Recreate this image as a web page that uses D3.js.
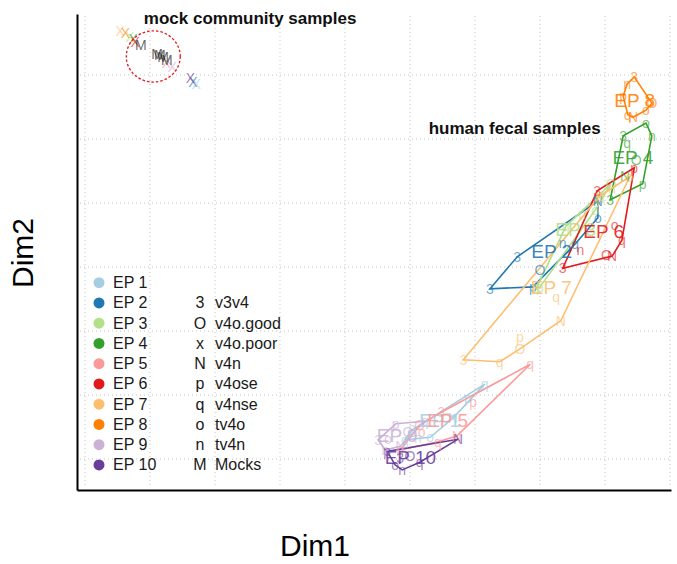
<!DOCTYPE html>
<html>
<head>
<meta charset="utf-8">
<script src="https://cdn.jsdelivr.net/npm/d3@7"></script>
<style>
  html, body { margin: 0; padding: 0; background: #fff; }
  svg { display: block; font-family: "Liberation Sans", Arial, sans-serif; }
</style>
</head>
<body>
<svg id="chart" width="677" height="564"></svg>
<script>
// Enterotype-pool samples on the first two MDS dimensions.
const epNames = ["EP 1", "EP 2", "EP 3", "EP 4", "EP 5", "EP 6", "EP 7", "EP 8", "EP 9", "EP 10"];
const epColors = ["#A6CEE3", "#1F78B4", "#B2DF8A", "#33A02C", "#FB9A99",
                  "#E31A1C", "#FDBF6F", "#FF7F00", "#CAB2D6", "#6A3D9A"];
const typeCodes = ["3", "O", "x", "N", "p", "q", "o", "n", "M"];
const typeNames = ["v3v4", "v4o.good", "v4o.poor", "v4n", "v4ose", "v4nse", "tv4o", "tv4n", "Mocks"];

// [type, Dim1, Dim2] per enterotype pool
const ep1 = [["q", 0.215, -0.183], ["p", 0.189, -0.205], ["O", 0.157, -0.236], ["N", 0.166, -0.236],
             ["o", 0.131, -0.266], ["n", 0.112, -0.267], ["3", 0.103, -0.255], ["q", 0.092, -0.270],
             ["x", -0.229, 0.286]];
const ep2 = [["3", 0.223, -0.034], ["3", 0.265, 0.016], ["N", 0.389, 0.103], ["o", 0.389, 0.077],
             ["q", 0.354, 0.036], ["O", 0.300, -0.005], ["p", 0.289, -0.031], ["n", 0.335, 0.038],
             ["x", -0.234, 0.289]];
const ep3 = [["3", 0.294, -0.034], ["p", 0.300, -0.031], ["q", 0.340, 0.064], ["n", 0.365, 0.083],
             ["o", 0.385, 0.089], ["N", 0.392, 0.108], ["O", 0.409, 0.130],
             ["x", -0.331, 0.359]];
const ep4 = [["o", 0.463, 0.225], ["n", 0.472, 0.205], ["3", 0.428, 0.205], ["q", 0.434, 0.194],
             ["O", 0.448, 0.167], ["N", 0.431, 0.142], ["p", 0.458, 0.130], ["3", 0.408, 0.105],
             ["x", -0.326, 0.356]];
const ep5 = [["q", 0.285, -0.152], ["p", 0.197, -0.211], ["3", 0.148, -0.227], ["N", 0.172, -0.264],
             ["q", 0.143, -0.273], ["o", 0.118, -0.258], ["n", 0.085, -0.286], ["O", 0.115, -0.247],
             ["x", -0.275, 0.319]];
const ep6 = [["p", 0.445, 0.155], ["3", 0.388, 0.119], ["o", 0.415, 0.066], ["n", 0.362, 0.027],
             ["3", 0.335, -0.002], ["O", 0.402, 0.019], ["N", 0.411, 0.017], ["q", 0.426, 0.042],
             ["x", -0.323, 0.352]];
const ep7 = [["3", 0.182, -0.145], ["q", 0.238, -0.148], ["O", 0.269, -0.128], ["p", 0.269, -0.109],
             ["N", 0.332, -0.084], ["q", 0.325, -0.047], ["o", 0.438, 0.141], ["n", 0.411, 0.123],
             ["p", 0.392, 0.111], ["x", -0.346, 0.369]];
const ep8 = [["3", 0.445, 0.297], ["n", 0.434, 0.286], ["p", 0.428, 0.267], ["q", 0.435, 0.238],
             ["N", 0.443, 0.234], ["o", 0.463, 0.245], ["O", 0.472, 0.256],
             ["x", -0.338, 0.366]];
const ep9 = [["p", 0.078, -0.245], ["3", 0.051, -0.270], ["n", 0.062, -0.286], ["N", 0.085, -0.280],
             ["q", 0.123, -0.241], ["O", 0.097, -0.258], ["o", 0.066, -0.268],
             ["x", -0.266, 0.313]];
const ep10 = [["N", 0.174, -0.269], ["p", 0.065, -0.288], ["o", 0.077, -0.309], ["n", 0.088, -0.317],
              ["q", 0.115, -0.305], ["O", 0.100, -0.295], ["3", 0.085, -0.298],
              ["x", -0.238, 0.295]];
const epSamples = [ep1, ep2, ep3, ep4, ep5, ep6, ep7, ep8, ep9, ep10];

// Mock community runs [Dim1, Dim2]
const mocks = [[-0.314, 0.347], [-0.289, 0.333], [-0.285, 0.331], [-0.280, 0.328], [-0.274, 0.323]];

// Highlight ring around the mocks [Dim1, Dim2, radius in Dim1 units, radius in Dim2 units]
const mockRing = [-0.295, 0.329, 0.0415, 0.040];

// Group annotations [text, Dim1, Dim2]
const notes = [["mock community samples", -0.146, 0.3875], ["human fecal samples", 0.261, 0.217]];

// Grid breaks
const xBreaks = [-0.4, -0.3, -0.2, -0.1, 0, 0.1, 0.2, 0.3, 0.4, 0.5];
const yBreaks = [-0.3, -0.2, -0.1, 0, 0.1, 0.2, 0.3];

const svg = d3.select("#chart");
const plotL = 77, plotR = 671, plotT = 14, plotB = 490;

const x = d3.scaleLinear().domain([-0.4123, 0.5015]).range([plotL, plotR]);
const y = d3.scaleLinear().domain([-0.3484, 0.3953]).range([plotB, plotT]);

// dotted grid
const grid = svg.append("g").attr("stroke", "#c4c4c4").attr("stroke-width", 1)
  .attr("stroke-dasharray", "1,3");
grid.selectAll("line.v").data(xBreaks).join("line").attr("class", "v")
  .attr("x1", d => x(d)).attr("x2", d => x(d)).attr("y1", plotT + 2).attr("y2", plotB - 5);
grid.selectAll("line.h").data(yBreaks).join("line").attr("class", "h")
  .attr("y1", d => y(d)).attr("y2", d => y(d)).attr("x1", plotL + 3).attr("x2", plotR);

// axis lines without ticks or labels
const xAxis = svg.append("g").attr("transform", `translate(0,${plotB})`)
  .call(d3.axisBottom(x).tickValues([]).tickSizeOuter(0));
const yAxis = svg.append("g").attr("transform", `translate(${plotL},0)`)
  .call(d3.axisLeft(y).tickValues([]).tickSizeOuter(0));
[xAxis, yAxis].forEach(a => a.select(".domain").attr("stroke", "#000").attr("stroke-width", 2));

// hulls of each pool (the v4o.poor runs sit with the mocks and are left out)
const hullG = svg.append("g").attr("fill", "none").attr("stroke-width", 1.6);
epSamples.forEach((pts, i) => {
  const xy = pts.filter(p => p[0] !== "x").map(p => [x(p[1]), y(p[2])]);
  const hull = d3.polygonHull(xy);
  hullG.append("path").attr("d", "M" + hull.join("L") + "Z").attr("stroke", epColors[i]);
});

// sample glyphs
const ptG = svg.append("g").attr("font-size", 14).attr("text-anchor", "middle")
  .attr("dominant-baseline", "central").attr("fill-opacity", 0.65);
epSamples.forEach((pts, i) => {
  ptG.selectAll(null).data(pts).join("text")
    .attr("x", p => x(p[1])).attr("y", p => y(p[2]))
    .attr("fill", epColors[i]).text(p => p[0] === "x" ? "X" : p[0]);
});
ptG.selectAll(null).data(mocks).join("text")
  .attr("x", p => x(p[0])).attr("y", p => y(p[1]))
  .attr("fill", "#111").text("M");

// pool labels at the mean of each pool's fecal samples
const labG = svg.append("g").attr("font-size", 19).attr("text-anchor", "middle")
  .attr("dominant-baseline", "central").attr("fill-opacity", 0.9);
epSamples.forEach((pts, i) => {
  const f = pts.filter(p => p[0] !== "x");
  labG.append("text").attr("x", x(d3.mean(f, p => p[1]))).attr("y", y(d3.mean(f, p => p[2])))
    .attr("fill", epColors[i]).text(epNames[i]);
});

// ring around the mocks
svg.append("ellipse")
  .attr("cx", x(mockRing[0])).attr("cy", y(mockRing[1]))
  .attr("rx", x(mockRing[0] + mockRing[2]) - x(mockRing[0]))
  .attr("ry", y(mockRing[1]) - y(mockRing[1] + mockRing[3]))
  .attr("fill", "none").attr("stroke", "#e8141b").attr("stroke-width", 1.3)
  .attr("stroke-dasharray", "2.5,2");

// annotations
svg.append("g").selectAll("text").data(notes).join("text")
  .attr("x", d => x(d[1])).attr("y", d => y(d[2]))
  .attr("text-anchor", "middle").attr("dominant-baseline", "central")
  .attr("font-weight", "bold").attr("font-size", 17).attr("fill", "#111")
  .text(d => d[0]);

// legend: pools
const rowY = i => 282.7 + i * 20.25;
const leg = svg.append("g").attr("font-size", 16).attr("fill", "#1a1a1a");
leg.selectAll("circle").data(epNames).join("circle")
  .attr("cx", 99).attr("cy", (d, i) => rowY(i)).attr("r", 5.5)
  .attr("fill", (d, i) => epColors[i]);
leg.selectAll("text.ep").data(epNames).join("text").attr("class", "ep")
  .attr("x", 113).attr("y", (d, i) => rowY(i)).attr("dominant-baseline", "central")
  .text(d => d);
// legend: sample types
leg.selectAll("text.code").data(typeCodes).join("text").attr("class", "code")
  .attr("x", 200).attr("y", (d, i) => rowY(i + 1)).attr("text-anchor", "middle")
  .attr("dominant-baseline", "central").text(d => d);
leg.selectAll("text.type").data(typeNames).join("text").attr("class", "type")
  .attr("x", 215).attr("y", (d, i) => rowY(i + 1)).attr("dominant-baseline", "central")
  .text(d => d);

// axis titles
svg.append("text").attr("x", (plotL + plotR) / 2 - 59).attr("y", 545)
  .attr("text-anchor", "middle").attr("dominant-baseline", "central")
  .attr("font-size", 30).attr("fill", "#000").text("Dim1");
svg.append("text").attr("transform", "translate(22,253) rotate(-90)")
  .attr("text-anchor", "middle").attr("dominant-baseline", "central")
  .attr("font-size", 30).attr("fill", "#000").text("Dim2");
</script>
</body>
</html>
